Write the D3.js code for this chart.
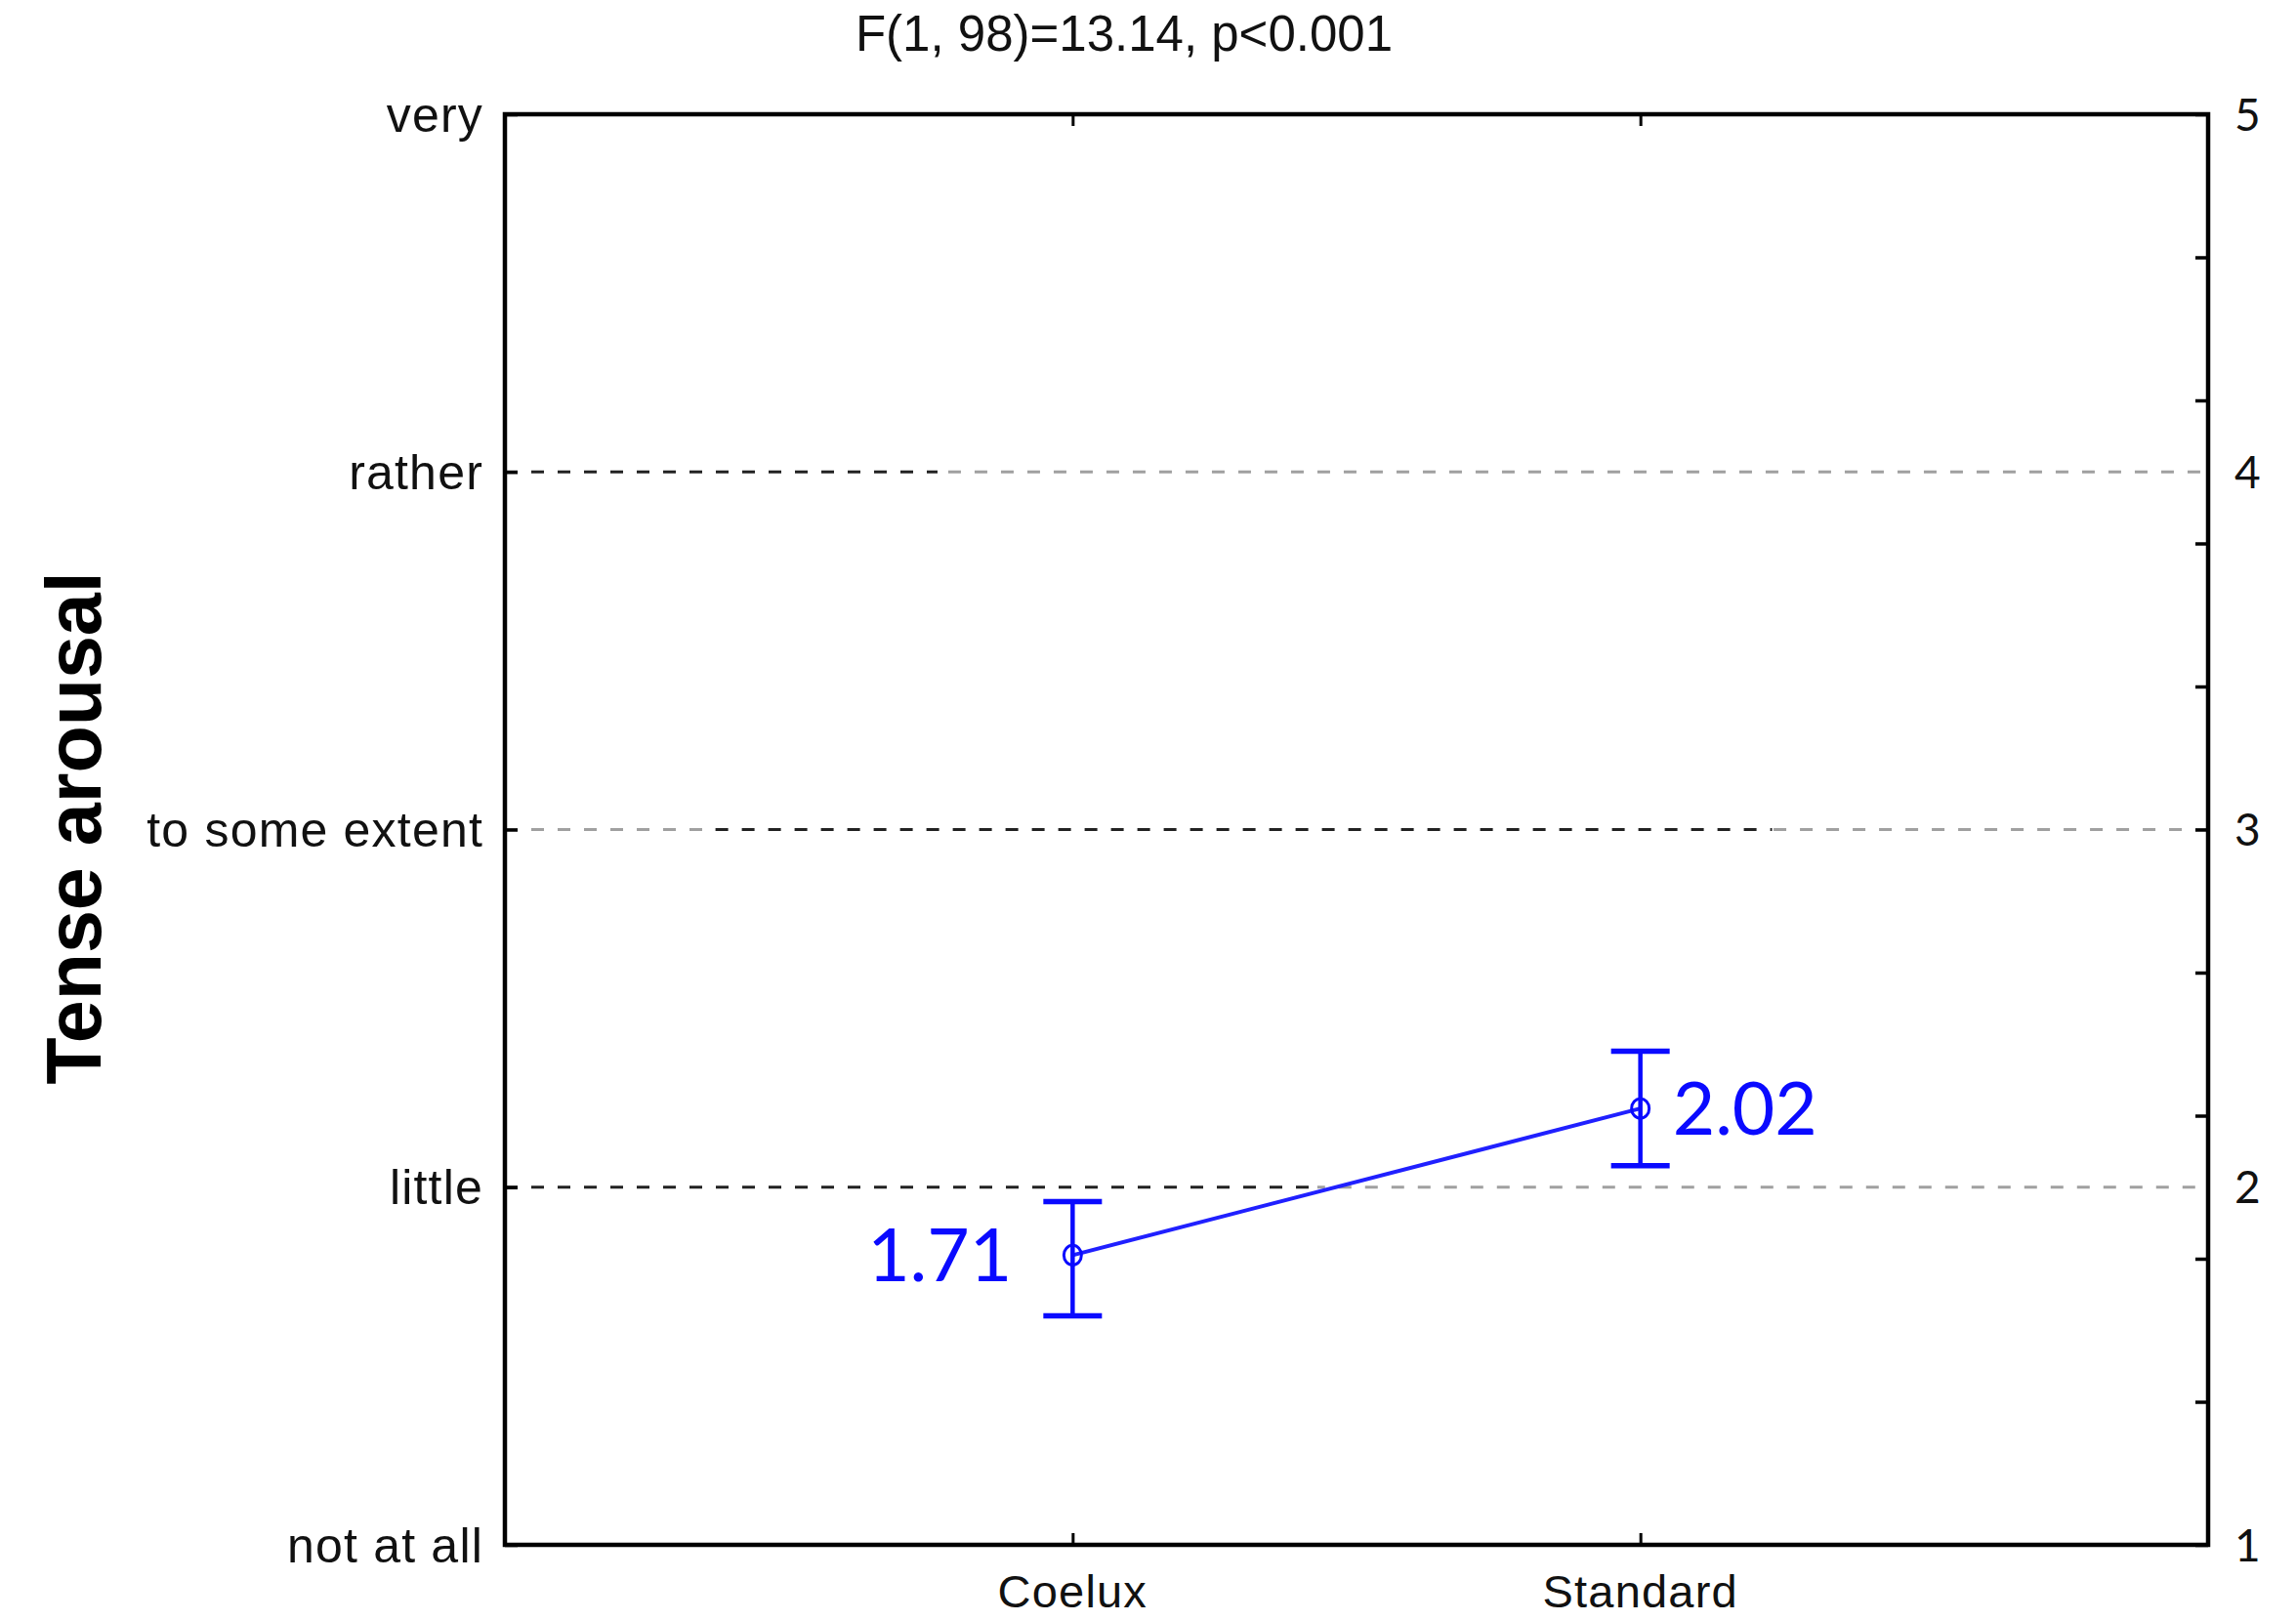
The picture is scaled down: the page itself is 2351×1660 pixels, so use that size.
<!DOCTYPE html>
<html><head><meta charset="utf-8">
<script src="https://cdn.jsdelivr.net/npm/d3@7"></script>
<style>html,body{margin:0;padding:0;background:#fff;}</style>
</head><body>
<script>
// ---- data ----
const categories = ["Coelux", "Standard"];
const means = [1.81, 2.22];
const errLow = [1.64, 2.06];
const errHigh = [1.96, 2.38];
const valueLabels = ["1.71", "2.02"];
const leftTickValues = [1, 2, 3, 4, 5];
const leftTickLabels = ["not at all", "little", "to some extent", "rather", "very"];
const rightTickValues = [1, 2, 3, 4, 5];
const rightMinorTicks = [1, 1.4, 1.8, 2.2, 2.6, 3, 3.4, 3.8, 4.2, 4.6, 5];
const gridValues = [2, 3, 4];
const titleText = "F(1, 98)=13.14, p<0.001";
const yTitle = "Tense arousal";

// ---- layout ----
const W = 2351, H = 1660;
const m = {left: 517, right: 2261, top: 117, bottom: 1582};
const svg = d3.select("body").append("svg").attr("width", W).attr("height", H);

const x = d3.scalePoint().domain(categories).range([m.left, m.right]).padding(1);
const y = d3.scaleLinear().domain([1, 5]).range([m.bottom, m.top]);

const sans = "'Liberation Sans', Arial, sans-serif";
const cal = "Lato, 'Open Sans', sans-serif";

// gridlines with two-tone dash segments (black / gray)
const gridStyle = {
  2: [[0, 0.477, "#222"], [0.477, 1, "#a0a0a0"]],
  3: [[0, 0.116, "#a0a0a0"], [0.116, 0.744, "#222"], [0.744, 1, "#a0a0a0"]],
  4: [[0, 0.254, "#222"], [0.254, 1, "#a0a0a0"]]
};
const gw = m.right - m.left;
gridValues.forEach(v => {
  gridStyle[v].forEach(([a, b, c]) => {
    svg.append("line")
      .attr("x1", m.left + a * gw).attr("x2", m.left + b * gw)
      .attr("y1", y(v)).attr("y2", y(v))
      .attr("stroke", c).attr("stroke-width", 3)
      .attr("stroke-dasharray", "13,14")
      .attr("stroke-dashoffset", -(a * gw));
  });
});

// frame
svg.append("rect").attr("x", m.left).attr("y", m.top)
  .attr("width", m.right - m.left).attr("height", m.bottom - m.top)
  .attr("fill", "none").attr("stroke", "#000").attr("stroke-width", 4.5);

// left axis ticks (inward) + labels
const gl = svg.append("g").attr("transform", `translate(${m.left},0)`)
  .call(d3.axisRight(y).tickValues(leftTickValues).tickSize(13).tickFormat(""));
gl.select(".domain").remove();
gl.selectAll(".tick line").attr("stroke", "#000").attr("stroke-width", 3.5);
leftTickValues.forEach((v, i) => {
  svg.append("text").attr("x", 495).attr("y", y(v)).attr("dy", "0.35em")
    .attr("text-anchor", "end").attr("font-family", sans).attr("font-size", 50)
    .attr("letter-spacing", 1.2).attr("fill", "#111").text(leftTickLabels[i]);
});

// right axis ticks (inward) + labels
const gr = svg.append("g").attr("transform", `translate(${m.right},0)`)
  .call(d3.axisLeft(y).tickValues(rightMinorTicks).tickSize(13).tickFormat(""));
gr.select(".domain").remove();
gr.selectAll(".tick line").attr("stroke", "#000").attr("stroke-width", 3.5);
rightTickValues.forEach(v => {
  svg.append("text").attr("x", 2288).attr("y", y(v)).attr("dy", "0.36em")
    .attr("font-family", cal).attr("font-size", 46).attr("fill", "#111").text(v);
});

// top & bottom category ticks (inward)
const gb = svg.append("g").attr("transform", `translate(0,${m.bottom})`)
  .call(d3.axisTop(x).tickSize(12).tickFormat(""));
gb.select(".domain").remove();
gb.selectAll(".tick line").attr("stroke", "#000").attr("stroke-width", 3);
const gt = svg.append("g").attr("transform", `translate(0,${m.top})`)
  .call(d3.axisBottom(x).tickSize(12).tickFormat(""));
gt.select(".domain").remove();
gt.selectAll(".tick line").attr("stroke", "#000").attr("stroke-width", 3);
categories.forEach(c => {
  svg.append("text").attr("x", x(c)).attr("y", 1646).attr("text-anchor", "middle")
    .attr("font-family", sans).attr("font-size", 47).attr("letter-spacing", 1.2)
    .attr("fill", "#111").text(c);
});

// title
svg.append("text").attr("x", 1151).attr("y", 52).attr("text-anchor", "middle")
  .attr("font-family", sans).attr("font-size", 51).attr("fill", "#111").text(titleText);

// y-axis title
svg.append("text").attr("transform", `translate(103,848) rotate(-90)`)
  .attr("text-anchor", "middle").attr("font-family", sans).attr("font-weight", "bold")
  .attr("font-size", 79).attr("fill", "#000").text(yTitle);

// data line
const blue = "#0a0aff";
const pts = categories.map((c, i) => [x(c), y(means[i])]);
svg.append("path").attr("d", d3.line()(pts)).attr("fill", "none")
  .attr("stroke", "#2020ff").attr("stroke-width", 4);

// error bars
categories.forEach((c, i) => {
  const cx = x(c), cw = 30;
  svg.append("line").attr("x1", cx).attr("x2", cx)
    .attr("y1", y(errLow[i])).attr("y2", y(errHigh[i]))
    .attr("stroke", blue).attr("stroke-width", 4.5);
  [errLow[i], errHigh[i]].forEach(v => {
    svg.append("line").attr("x1", cx - cw).attr("x2", cx + cw)
      .attr("y1", y(v)).attr("y2", y(v)).attr("stroke", blue).attr("stroke-width", 5.5);
  });
  svg.append("ellipse").attr("cx", cx).attr("cy", y(means[i])).attr("rx", 9).attr("ry", 10)
    .attr("fill", "none").attr("stroke", blue).attr("stroke-width", 3);
});

// value labels
svg.append("text").attr("x", x(categories[0]) - 62).attr("y", y(means[0])).attr("dy", "0.36em")
  .attr("text-anchor", "end").attr("font-family", cal).attr("font-size", 75)
  .attr("fill", blue).text(valueLabels[0]);
svg.append("text").attr("x", x(categories[1]) + 33).attr("y", y(means[1])).attr("dy", "0.36em")
  .attr("text-anchor", "start").attr("font-family", cal).attr("font-size", 75)
  .attr("fill", blue).text(valueLabels[1]);
</script>
</body></html>
